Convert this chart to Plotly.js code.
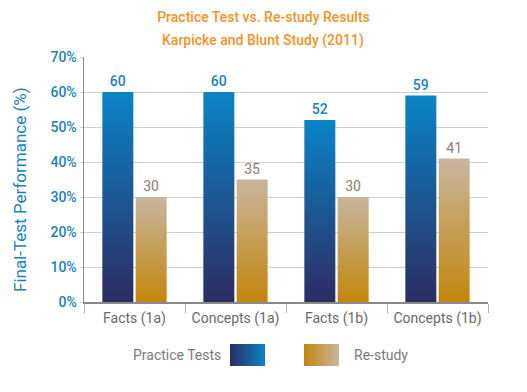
<!DOCTYPE html>
<html>
<head>
<meta charset="utf-8">
<script src="https://cdn.plot.ly/plotly-3.0.1.min.js"></script>
<style>html,body{margin:0;padding:0;background:#fff;}#chart{width:527px;height:392px;}</style>
</head>
<body>
<div id="chart"></div>
<script>
var categories = ["Facts (1a)", "Concepts (1a)", "Facts (1b)", "Concepts (1b)"];
var practiceTests = [60, 60, 52, 59];
var reStudy = [30, 35, 30, 41];
var yTicks = [0, 10, 20, 30, 40, 50, 60, 70];
var yTickLabels = ["0%", "10%", "20%", "30%", "40%", "50%", "60%", "70%"];

var traces = [
  {type: 'bar', name: 'Practice Tests', x: categories, y: practiceTests,
   text: practiceTests.map(String), textposition: 'outside', cliponaxis: false,
   textfont: {family: 'Roboto', size: 14, color: '#1a7fc1', weight: 500},
   marker: {color: '#0a80c0', line: {width: 0}}, hoverinfo: 'none'},
  {type: 'bar', name: 'Re-study', x: categories, y: reStudy,
   text: reStudy.map(String), textposition: 'outside', cliponaxis: false,
   textfont: {family: 'Roboto', size: 14, color: '#8c7d70'},
   marker: {color: '#c4a060', line: {width: 0}}, hoverinfo: 'none'}
];

var layout = {
  width: 527, height: 392,
  margin: {l: 84, r: 39, t: 57, b: 90},
  paper_bgcolor: '#fff', plot_bgcolor: '#fff',
  font: {family: 'Roboto', size: 13, color: '#555'},
  showlegend: false,
  barmode: 'group', bargap: 0.34, bargroupgap: 0.07,
  title: {text: 'Practice Test vs. Re-study Results', x: 0.5, xref: 'container',
          y: 1 - 17/392, yref: 'container', yanchor: 'middle',
          font: {family: 'Roboto', size: 14, color: '#f39328', weight: 500}},
  xaxis: {type: 'category', showline: true, linecolor: '#8a8a8a', linewidth: 1.5,
          ticks: 'outside', tickson: 'boundaries', ticklen: 9, tickcolor: '#b0b0b0',
          ticklabelstandoff: 3,
          tickfont: {family: 'Roboto', size: 14, color: '#6a6a6a'}, showgrid: false},
  yaxis: {range: [0, 70], tickvals: yTicks, ticktext: yTickLabels, showline: true,
          linecolor: '#8a8a8a', linewidth: 1.5, ticks: 'outside', ticklen: 3,
          tickcolor: '#ccd0d6', gridcolor: '#ccd0d6', gridwidth: 1, zeroline: false,
          tickfont: {family: 'Roboto', size: 14, color: '#1a7fc1', weight: 500}},
  annotations: [
    {text: 'Karpicke and Blunt Study (2011)', xref: 'paper', yref: 'paper',
     x: (263 - 84) / 404, y: (302 - 40) / 245, yanchor: 'middle', showarrow: false,
     font: {family: 'Roboto', size: 14, color: '#f39328', weight: 500}},
    {text: 'Final-Test Performance (%)', xref: 'paper', yref: 'paper', textangle: -90,
     x: (20 - 84) / 404, y: (302 - 190) / 245, xanchor: 'center', yanchor: 'middle', showarrow: false,
     font: {family: 'Roboto', size: 17, color: '#1a7fc1'}},
    {text: 'Practice Tests', xref: 'paper', yref: 'paper', xanchor: 'right', yanchor: 'middle',
     x: (223 - 84) / 404, y: (302 - 355) / 245, showarrow: false,
     font: {family: 'Roboto', size: 14, color: '#7a7a7a'}},
    {text: 'Re-study', xref: 'paper', yref: 'paper', xanchor: 'left', yanchor: 'middle',
     x: (352 - 84) / 404, y: (302 - 355) / 245, showarrow: false,
     font: {family: 'Roboto', size: 14, color: '#7a7a7a'}}
  ],
  shapes: [
    {type: 'rect', xref: 'paper', yref: 'paper', x0: (230 - 84) / 404, x1: (265 - 84) / 404,
     y0: (302 - 344) / 245, y1: (302 - 366) / 245, fillcolor: '#0a80c0', line: {width: 0}},
    {type: 'rect', xref: 'paper', yref: 'paper', x0: (304 - 84) / 404, x1: (339 - 84) / 404,
     y0: (302 - 344) / 245, y1: (302 - 366) / 245, fillcolor: '#c4a060', line: {width: 0}}
  ]
};

function addGrad(defs, id, horizontal, c1, c2) {
  var ns = 'http://www.w3.org/2000/svg';
  var g = document.createElementNS(ns, 'linearGradient');
  g.setAttribute('id', id);
  g.setAttribute('x1', '0'); g.setAttribute('y1', '0');
  g.setAttribute('x2', horizontal ? '1' : '0'); g.setAttribute('y2', horizontal ? '0' : '1');
  var s1 = document.createElementNS(ns, 'stop'); s1.setAttribute('offset', '0'); s1.setAttribute('stop-color', c1);
  var s2 = document.createElementNS(ns, 'stop'); s2.setAttribute('offset', '1'); s2.setAttribute('stop-color', c2);
  g.appendChild(s1); g.appendChild(s2); defs.appendChild(g);
}

Plotly.newPlot('chart', traces, layout, {displayModeBar: false, staticPlot: true}).then(function (gd) {
  var svg = gd.querySelector('svg.main-svg');
  var defs = svg.querySelector('defs');
  addGrad(defs, 'gBlueV', false, '#0a84c6', '#2d2c62');
  addGrad(defs, 'gTanV', false, '#c8b69e', '#c2860c');
  addGrad(defs, 'gBlueH', true, '#2d2c62', '#0a84c6');
  addGrad(defs, 'gTanH', true, '#c2860c', '#c8b69e');
  var bars = gd.querySelectorAll('.trace.bars');
  bars.forEach(function (t, i) {
    t.querySelectorAll('.point path').forEach(function (p) {
      p.style.fill = i === 0 ? 'url(#gBlueV)' : 'url(#gTanV)';
    });
  });
  var shp = gd.querySelectorAll('.shapelayer path');
  shp.forEach(function (p, i) {
    p.style.fill = i === 0 ? 'url(#gBlueH)' : 'url(#gTanH)';
    p.style.fillOpacity = 1;
  });
});
</script>
</body>
</html>
